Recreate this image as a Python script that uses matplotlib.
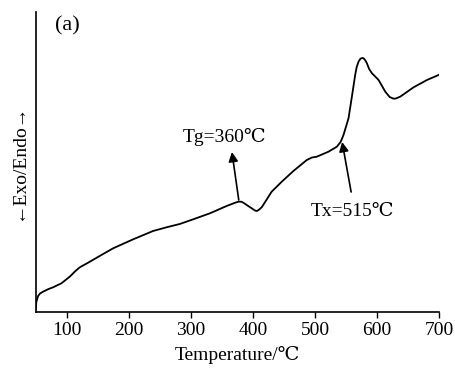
import matplotlib
matplotlib.use("Agg")
import matplotlib.pyplot as plt

temperature = [50, 51, 53.8, 57, 61.8, 70, 78, 91.4, 104.8, 114, 121, 134.4, 153, 174.7, 207, 239, 260.8, 282,
               303.7, 330.6, 357.5, 370, 376.3, 381, 384.4, 391, 397.9, 403, 406, 409, 414, 421, 430, 446.3, 465, 486.6,
               495, 502.7, 521.5, 535, 541, 545.7, 553.8, 559.2, 564.5, 567, 569.9, 573, 576, 578, 581, 583.4, 587, 591.5,
               596, 602.2, 613, 620, 626.3, 630, 637, 658.6, 680.2, 700]
heat_flow = [3, 10, 16, 18.5, 20.3, 22.8, 24.7, 28.7, 35.3, 41, 44.7, 49.3, 56, 63.7, 72.7, 81, 84.7, 88,
             92.7, 98.7, 106, 109, 110.3, 110.3, 109.3, 106.5, 103.7, 101.5, 101, 102, 104.7, 111.5, 120.3, 130.3, 141, 152,
             154.5, 155.3, 160.3, 165.3, 170, 177, 193.7, 215.3, 237, 245, 250.3, 253.3, 254, 253.7, 251.5, 248.7, 243, 238.7,
             236, 232, 220.3, 215, 213.3, 213.5, 215.3, 224.7, 232, 237.3]
x_ticks = [100, 200, 300, 400, 500, 600, 700]

fam = ['Liberation Serif', 'DejaVu Serif', 'Noto Sans CJK SC']
plt.rcParams['font.family'] = fam

fig = plt.figure(figsize=(4.55, 3.69), dpi=100)
ax = fig.add_axes([0.0785, 0.1545, 0.887, 0.813])

ax.plot(temperature, heat_flow, color='black', lw=1.3, solid_joinstyle='round')
ax.set_xlim(50, 700)
ax.set_ylim(0, 300)
ax.set_xticks(x_ticks)
ax.set_yticks([])
ax.tick_params(axis='x', direction='out', length=4, width=1, labelsize=14, pad=3)
for s in ['top', 'right']:
    ax.spines[s].set_visible(False)
for s in ['left', 'bottom']:
    ax.spines[s].set_linewidth(1.2)

ax.set_xlabel('Temperature/℃', fontsize=14, labelpad=5)
ax.set_ylabel('←Exo/Endo→', fontsize=14, labelpad=6)

ax.text(0.0775, 0.953, '(a)', transform=ax.transAxes, fontsize=16, ha='center', va='center')

arrow = dict(arrowstyle='-|>', color='black', lw=1.2, mutation_scale=14, shrinkA=0, shrinkB=0)
ax.text(354, 175, 'Tg=360℃', fontsize=14, ha='center', va='center')
ax.annotate('', xy=(366, 160), xytext=(377, 112), arrowprops=arrow)
ax.text(560, 100, 'Tx=515℃', fontsize=14, ha='center', va='center')
ax.annotate('', xy=(543.5, 170), xytext=(558, 120), arrowprops=arrow)

fig.savefig('out.png', dpi=100)
